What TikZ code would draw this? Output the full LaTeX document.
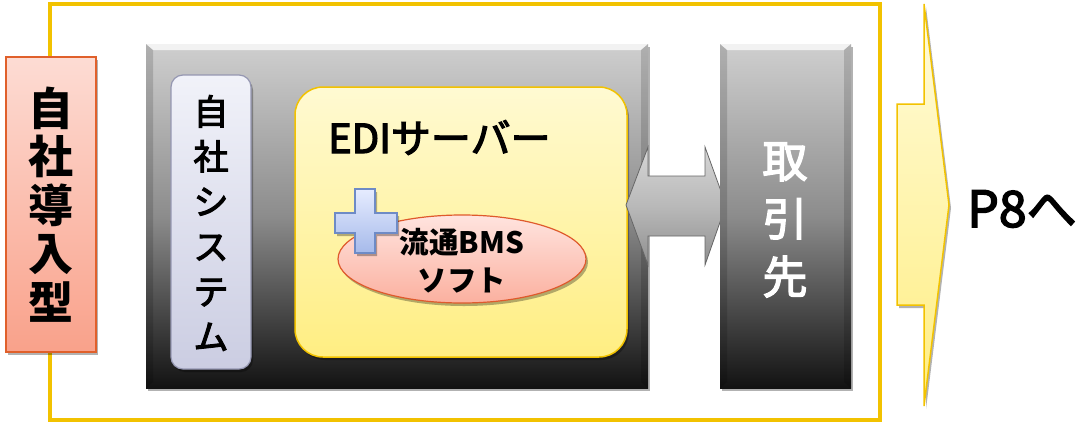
\documentclass[tikz,border=0pt]{standalone}
\usepackage{fontspec}
\setmainfont{Noto Sans CJK JP}
\newfontfamily\medfont[FakeBold=3]{Noto Sans CJK JP}
\usetikzlibrary{shadows,shapes.geometric}

\definecolor{framegold}{HTML}{F2C200}
\definecolor{redtop}{HTML}{FDDCD4}
\definecolor{redbot}{HTML}{F9A18A}
\definecolor{redline}{HTML}{E0602B}
\definecolor{lavtop}{HTML}{F1F2F9}
\definecolor{lavbot}{HTML}{CBCDE2}
\definecolor{lavline}{HTML}{9597B2}
\definecolor{ylwtop}{HTML}{FFFAD2}
\definecolor{ylwbot}{HTML}{FFEE82}
\definecolor{pinktop}{HTML}{FFE4DF}
\definecolor{pinkbot}{HTML}{FBB09F}
\definecolor{pinkline}{HTML}{DF5A2C}
\definecolor{bluetop}{HTML}{E6ECFF}
\definecolor{bluebot}{HTML}{A6BAEA}
\definecolor{blueline}{HTML}{6E8BC6}
\definecolor{darktop}{HTML}{CFCFCF}
\definecolor{darkmid}{HTML}{8C8C8C}
\definecolor{darkbot}{HTML}{121212}

\tikzset{
  softshadow/.style={drop shadow={shadow xshift=2pt, shadow yshift=-3pt, opacity=0.3, fill=black}},
  typebox/.style={draw=redline, line width=1.5pt, top color=redtop, bottom color=redbot,
    minimum width=90pt, minimum height=295pt, inner sep=0pt, softshadow},
  darkbox/.style={top color=darktop, bottom color=darkbot, middle color=darkmid,
    inner sep=0pt, softshadow},
  sysbox/.style={draw=lavline, line width=1.2pt, top color=lavtop, bottom color=lavbot,
    rounded corners=12pt, minimum width=80pt, minimum height=294pt, inner sep=0pt, softshadow},
  serverbox/.style={draw=framegold, line width=1.5pt, top color=ylwtop, bottom color=ylwbot,
    rounded corners=28pt, minimum width=332pt, minimum height=270pt, inner sep=0pt, softshadow},
  softellipse/.style={ellipse, draw=pinkline, line width=1.2pt, top color=pinktop, bottom color=pinkbot,
    minimum width=248pt, minimum height=88pt, inner sep=0pt, softshadow},
  vstack/.style={align=center, inner sep=0pt},
}

\begin{document}
\begin{tikzpicture}[x=1pt, y=-1pt]
\useasboundingbox (0,0) rectangle (1076,426);

% outer gold frame
\node[draw=framegold, line width=4pt, minimum width=830pt, minimum height=416pt, inner sep=0pt]
  (frame) at (465,212) {};

% left label box
\node[typebox] (type) at (51,204.5) {};
\node[vstack, font=\fontsize{45}{48.5}\selectfont\bfseries] (typetext) at (type.center)
  {自\\社\\導\\入\\型};

% dark panel holding the in-house system and the EDI server
\node[darkbox, minimum width=502pt, minimum height=344pt] (panel) at (397,216) {};
\fill[white, opacity=0.75] (146,44) -- (648,44) -- (641,50) -- (153,50) -- cycle;
\fill[black, opacity=0.15] (146,44) -- (153,50) -- (153,382) -- (146,388) -- cycle;
\fill[black, opacity=0.15] (648,44) -- (641,50) -- (641,382) -- (648,388) -- cycle;

% in-house system
\node[sysbox] (sys) at (211,222) {};
\node[vstack, font=\fontsize{35}{45}\medfont] (systext) at (211,223)
  {自\\社\\シ\\ス\\テ\\ム};

% EDI server
\node[serverbox] (server) at (461,222) {};
\node[anchor=base west, inner sep=0pt, font=\fontsize{40}{42}\medfont] (servertext)
  at (328,153) {EDIサーバー};

% distribution BMS software with plus mark
\node[softellipse] (soft) at (462,259) {};
\draw[blueline, line width=1.2pt, top color=bluetop, bottom color=bluebot, softshadow]
  (355,189) -- (375,189) -- (375,213) -- (397,213) -- (397,233) -- (375,233)
  -- (375,253) -- (355,253) -- (355,233) -- (335,233) -- (335,213) -- (355,213) -- cycle;
\node[vstack, font=\fontsize{29.5}{38}\selectfont\bfseries] (softtext) at (462,261)
  {流通BMS\\ソフト};

% two-way exchange arrow
\draw[gray!80!black, line width=0.8pt, top color=gray!32, bottom color=gray!88, middle color=gray!55]
  (626,205) -- (648,147) -- (648,176) -- (705,176) -- (705,147) -- (726,205)
  -- (705,265) -- (705,236) -- (648,236) -- (648,265) -- cycle;

% business partner
\node[darkbox, minimum width=131pt, minimum height=344pt] (partner) at (785.5,216) {};
\fill[white, opacity=0.75] (720,44) -- (851,44) -- (844,50) -- (727,50) -- cycle;
\fill[black, opacity=0.15] (720,44) -- (727,50) -- (727,382) -- (720,388) -- cycle;
\fill[black, opacity=0.15] (851,44) -- (844,50) -- (844,382) -- (851,388) -- cycle;
\node[vstack, text=white, font=\fontsize{45}{58}\medfont] (partnertext) at (785,220)
  {取\\引\\先};

% continuation arrow
\draw[framegold, line width=1.5pt, top color=ylwtop!80!white, bottom color=ylwbot, softshadow]
  (897,104) -- (924,104) -- (924,4) -- (949,205) -- (924,406) -- (924,305) -- (897,305) -- cycle;
\node[anchor=base west, inner sep=0pt, font=\fontsize{50}{52}\medfont] (next)
  at (967,227) {P8へ};
\end{tikzpicture}
\end{document}
